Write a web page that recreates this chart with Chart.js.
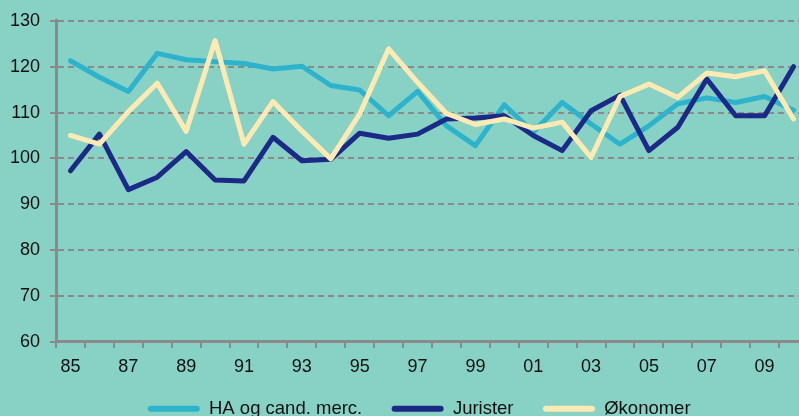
<!DOCTYPE html>
<html>
<head>
<meta charset="utf-8">
<script src="https://cdn.jsdelivr.net/npm/chart.js@4"></script>
<style>
  html, body { margin: 0; padding: 0; overflow: hidden; background: #88d1c5; }
  #wrap { position: absolute; left: 0; top: 0; width: 808px; height: 428px; }
</style>
</head>
<body>
<div id="wrap"><canvas id="chart"></canvas></div>
<script>
// ── Data ──
const YEARS = ["85","86","87","88","89","90","91","92","93","94","95","96","97","98","99","00","01","02","03","04","05","06","07","08","09","10"];
const HA = [121.3,117.7,114.6,122.9,121.5,121.1,120.7,119.5,120.1,115.9,114.9,109.3,114.6,107.1,102.8,111.7,105.7,112.2,107.5,103.1,107.1,111.9,113.2,112.2,113.5,110.5];
const JURISTER = [97.3,105.3,93.2,95.9,101.5,95.3,95.1,104.6,99.5,99.8,105.5,104.4,105.3,108.6,108.8,109.3,105.0,101.7,110.4,113.8,101.7,106.8,117.3,109.3,109.3,120.0];
const OKONOMER = [105.0,103.1,110.2,116.4,105.9,125.7,103.1,112.4,106.0,99.9,109.7,123.9,116.6,109.8,107.4,108.6,106.6,107.9,100.2,113.5,116.2,113.3,118.6,117.8,119.1,108.6];
const Y_MIN = 60, Y_MAX = 130, Y_STEP = 10;

const GRID = "#8a8a8a";
const TEXT = "#111";
Chart.defaults.font.family = "'Liberation Sans', Arial, sans-serif";
Chart.defaults.font.size = 18;
Chart.defaults.color = TEXT;

// later series drawn on top, like the original
const line = (label, data, color, order) => ({
  label, data, order,
  borderColor: color, backgroundColor: color,
  borderWidth: 5, pointRadius: 0, tension: 0,
  borderJoinStyle: "round", borderCapStyle: "round",
});

// extra spacing after legend entries (legend padding is shared with the vertical gap)
const NB = "\u00a0";
const TAIL = [NB.repeat(3), NB.repeat(3), NB.repeat(5)];

new Chart(document.getElementById("chart"), {
  type: "line",
  data: {
    labels: YEARS,
    datasets: [
      line("HA og cand. merc.", HA, "#2db4cc", 3),
      line("Jurister", JURISTER, "#1b2a86", 2),
      line("Økonomer", OKONOMER, "#ffeab4", 1),
    ],
  },
  options: {
    responsive: true,
    maintainAspectRatio: false,
    animation: false,
    layout: { padding: { left: 0, top: 12, right: 0, bottom: 0 } },
    plugins: {
      tooltip: { enabled: false },
      legend: {
        position: "bottom",
        fullSize: false,
        labels: {
          boxWidth: 52, boxHeight: 6, padding: 14,
          font: { size: 18.5 },
          useBorderRadius: true, borderRadius: 3,
          sort: (a, b) => a.datasetIndex - b.datasetIndex,
          generateLabels(chart) {
            return Chart.defaults.plugins.legend.labels.generateLabels(chart)
              .map((l) => ({ ...l, lineWidth: 0, text: l.text + TAIL[l.datasetIndex] }));
          },
        },
      },
    },
    scales: {
      x: {
        offset: true,
        grid: { offset: true, drawOnChartArea: false, drawTicks: true, tickLength: 6, color: GRID, lineWidth: 2 },
        border: { display: true, color: GRID, width: 3 },
        ticks: {
          autoSkip: false, maxRotation: 0, padding: 8,
          callback: (v, i) => (i % 2 === 0 ? YEARS[i] : ""),
        },
      },
      y: {
        min: Y_MIN, max: Y_MAX,
        grid: { color: GRID, lineWidth: 2, tickLength: 6, tickBorderDash: [] },
        border: { display: true, color: GRID, width: 3, dash: [6, 4] },
        ticks: { stepSize: Y_STEP, padding: 10 },
      },
    },
  },
});
</script>
</body>
</html>
